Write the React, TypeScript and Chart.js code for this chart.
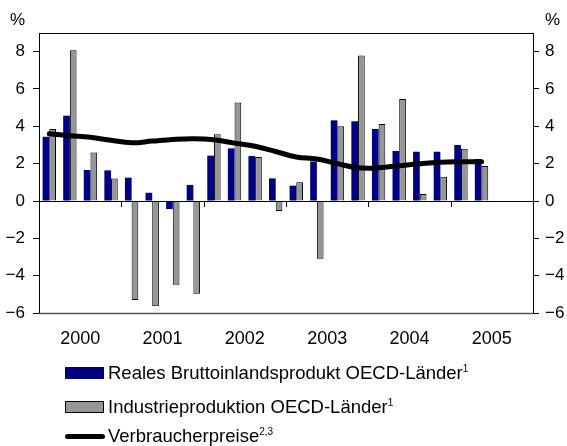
import React, { useEffect, useRef } from 'react';
import { Chart, registerables } from 'chart.js';

Chart.register(...registerables);

// ---- data (quarterly, 2000 Q1 – 2005 Q2) ----
const quarters = [
  '2000 Q1', '2000 Q2', '2000 Q3', '2000 Q4',
  '2001 Q1', '2001 Q2', '2001 Q3', '2001 Q4',
  '2002 Q1', '2002 Q2', '2002 Q3', '2002 Q4',
  '2003 Q1', '2003 Q2', '2003 Q3', '2003 Q4',
  '2004 Q1', '2004 Q2', '2004 Q3', '2004 Q4',
  '2005 Q1', '2005 Q2',
];
const bip = [
  3.44, 4.57, 1.66, 1.64,
  1.25, 0.44, -0.43, 0.86,
  2.43, 2.82, 2.41, 1.21,
  0.82, 2.12, 4.32, 4.27,
  3.86, 2.68, 2.64, 2.64,
  3.0, 2.25,
];
const industrie = [
  3.86, 8.07, 2.6, 1.21,
  -5.3, -5.64, -4.48, -4.97,
  3.57, 5.28, 2.36, -0.54,
  1.0, -3.09, 4.0, 7.8,
  4.12, 5.46, 0.37, 1.3,
  2.8, 1.87,
];
const verbraucherpreise = [
  3.6, 3.5, 3.41, 3.25,
  3.12, 3.21, 3.3, 3.34,
  3.28, 3.1, 2.93, 2.65,
  2.36, 2.25, 2.0, 1.78,
  1.78, 1.89, 2.0, 2.08,
  2.1, 2.1,
];
const yearLabels = ['2000', '2001', '2002', '2003', '2004', '2005'];
const yTicks = [-6, -4, -2, 0, 2, 4, 6, 8];
const Y_MIN = -6;
const Y_MAX = 9;
const QUARTERS_PER_YEAR = 4;
const X_MAX = yearLabels.length * QUARTERS_PER_YEAR;

const labelBip = 'Reales Bruttoinlandsprodukt OECD-Länder';
const labelInd = 'Industrieproduktion OECD-Länder';
const labelCpi = 'Verbraucherpreise';

const FONT = '"Liberation Sans", Arial, Helvetica, sans-serif';

const toPoints = (arr: number[]) => arr.map((v, i) => ({ x: i + 0.5, y: v }));
const fmtTick = (v: number) => (v < 0 ? '\u2212' + Math.abs(v) : String(v));

const framePlugin = {
  id: 'frame',
  afterDatasetsDraw(chart: any) {
    const { ctx, chartArea } = chart;
    const xs = chart.scales.x;
    const ys = chart.scales.y;
    const y0 = ys.getPixelForValue(0);
    ctx.save();
    ctx.strokeStyle = '#000';
    ctx.lineWidth = 1;
    // zero line
    ctx.beginPath();
    ctx.moveTo(chartArea.left, Math.round(y0) + 0.5);
    ctx.lineTo(chartArea.right, Math.round(y0) + 0.5);
    ctx.stroke();
    // year boundary ticks on zero line
    for (let k = 1; k < yearLabels.length; k++) {
      const px = Math.round(xs.getPixelForValue(k * QUARTERS_PER_YEAR)) + 0.5;
      ctx.beginPath();
      ctx.moveTo(px, y0);
      ctx.lineTo(px, y0 + 6);
      ctx.stroke();
    }
    // frame
    const l = Math.round(chartArea.left) + 0.5;
    const t = Math.round(chartArea.top) + 0.5;
    const r = Math.round(chartArea.right) + 0.5;
    const b = Math.round(chartArea.bottom) + 0.5;
    ctx.beginPath();
    ctx.moveTo(l, b);
    ctx.lineTo(l, t);
    ctx.lineTo(r, t);
    ctx.lineTo(r, b);
    ctx.stroke();
    ctx.strokeStyle = '#555';
    ctx.lineWidth = 1.5;
    ctx.beginPath();
    ctx.moveTo(l, b);
    ctx.lineTo(r, b);
    ctx.stroke();
    ctx.restore();
  },
  afterDraw(chart: any) {
    const { ctx, chartArea } = chart;
    const yl = chart.scales.y;
    const yr = chart.scales.y2;
    ctx.save();
    ctx.fillStyle = '#000';
    ctx.font = `17px ${FONT}`;
    ctx.textBaseline = 'middle';
    ctx.textAlign = 'right';
    ctx.fillText('%', yl.right - 6 - 8, chartArea.top - 13);
    ctx.textAlign = 'left';
    ctx.fillText('%', yr.left + 6 + 6, chartArea.top - 13);
    ctx.restore();
  },
};

function App() {
  const ref = useRef<HTMLCanvasElement | null>(null);

  useEffect(() => {
    if (!ref.current) return;
    const yAxisCommon = (side: 'left' | 'right') => ({
      type: 'linear' as const,
      position: side,
      min: Y_MIN,
      max: Y_MAX,
      afterBuildTicks: (s: any) => {
        s.ticks = yTicks.map((v) => ({ value: v }));
      },
      afterFit: (s: any) => {
        s.width = side === 'left' ? 39 : 34;
      },
      grid: {
        display: true,
        drawOnChartArea: false,
        drawTicks: true,
        tickLength: 6,
        color: '#000',
      },
      border: { display: true, color: '#000' },
      ticks: {
        color: '#000',
        padding: side === 'left' ? 8 : 6,
        font: { size: 17, family: FONT },
        callback: (v: any) => fmtTick(Number(v)),
      },
    });

    const chart = new Chart(ref.current, {
      type: 'bar',
      data: {
        labels: quarters,
        datasets: [
          {
            type: 'line',
            label: labelCpi,
            data: toPoints(verbraucherpreise),
            borderColor: '#000',
            backgroundColor: '#000',
            borderWidth: 5,
            pointRadius: 0,
            tension: 0.4,
            borderCapStyle: 'round',
            borderJoinStyle: 'round',
            order: 0,
            yAxisID: 'y',
          } as any,
          {
            type: 'bar',
            label: labelBip,
            data: toPoints(bip),
            backgroundColor: '#000080',
            borderWidth: 0,
            categoryPercentage: 0.65,
            barPercentage: 1,
            order: 1,
            yAxisID: 'y',
          } as any,
          {
            type: 'bar',
            label: labelInd,
            data: toPoints(industrie),
            backgroundColor: '#969696',
            borderColor: '#000',
            borderWidth: 1,
            categoryPercentage: 0.65,
            barPercentage: 1,
            order: 2,
            yAxisID: 'y',
          } as any,
        ],
      },
      options: {
        animation: false,
        responsive: false,
        devicePixelRatio: 1,
        layout: { padding: { top: 33, bottom: 93, left: 0, right: 0 } },
        plugins: {
          legend: { display: false },
          title: { display: false },
          tooltip: { enabled: false },
        },
        scales: {
          x: {
            type: 'linear',
            min: 0,
            max: X_MAX,
            offset: false,
            afterBuildTicks: (s: any) => {
              s.ticks = yearLabels.map((_, k) => ({
                value: k * QUARTERS_PER_YEAR + QUARTERS_PER_YEAR / 2,
              }));
            },
            afterFit: (s: any) => {
              s.height = 40;
            },
            grid: { display: false, drawTicks: false },
            border: { display: false },
            ticks: {
              color: '#000',
              padding: 15,
              autoSkip: false,
              maxRotation: 0,
              font: { size: 18, family: FONT },
              callback: (v: any) =>
                yearLabels[Math.round((Number(v) - QUARTERS_PER_YEAR / 2) / QUARTERS_PER_YEAR)] ?? '',
            },
          },
          y: yAxisCommon('left'),
          y2: yAxisCommon('right'),
        } as any,
      },
      plugins: [framePlugin],
    } as any);
    return () => chart.destroy();
  }, []);

  const row = (top: number): React.CSSProperties => ({
    position: 'absolute',
    left: 65,
    top,
    height: 24,
    display: 'flex',
    alignItems: 'center',
    whiteSpace: 'nowrap',
    fontFamily: FONT,
    fontSize: 18.5,
    color: '#000',
  });
  const sup: React.CSSProperties = { fontSize: 10, verticalAlign: 'super', lineHeight: 0 };

  return (
    <div
      style={{
        position: 'fixed',
        left: 0,
        top: 0,
        width: 567,
        height: 446,
        overflow: 'hidden',
        background: '#fff',
      }}
    >
      <canvas ref={ref} width={567} height={446} style={{ display: 'block', width: 567, height: 446 }} />
      <div style={row(361)}>
        <span style={{ display: 'inline-block', width: 39, height: 12, background: '#000080', marginRight: 4 }} />
        <span>
          {labelBip}
          <span style={sup}>1</span>
        </span>
      </div>
      <div style={row(395)}>
        <span
          style={{
            display: 'inline-block',
            width: 37,
            height: 10,
            background: '#969696',
            border: '1px solid #000',
            marginRight: 4,
          }}
        />
        <span>
          {labelInd}
          <span style={sup}>1</span>
        </span>
      </div>
      <div style={row(424)}>
        <span
          style={{
            display: 'inline-block',
            width: 40,
            height: 5,
            background: '#000',
            borderRadius: 3,
            marginRight: 3,
          }}
        />
        <span>
          {labelCpi}
          <span style={sup}>2,3</span>
        </span>
      </div>
    </div>
  );
}

export default App;
